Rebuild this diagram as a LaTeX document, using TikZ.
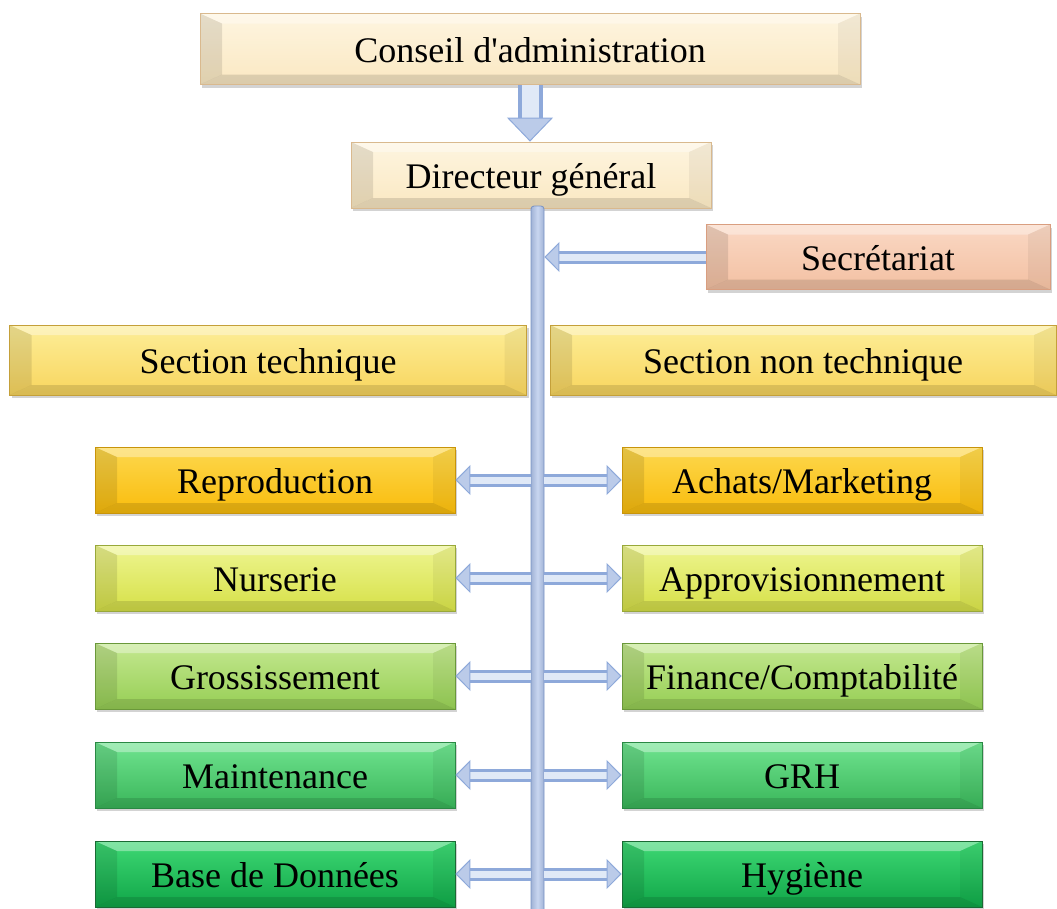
\documentclass[tikz,border=0pt]{standalone}
\usepackage{fontspec}
\setmainfont{Liberation Serif}
\usetikzlibrary{arrows.meta,shadows,fit}

\definecolor{cream}{HTML}{FAE8C2}
\definecolor{creamTop}{HTML}{FEF5E0}
\definecolor{creamEdge}{HTML}{D9B98E}
\definecolor{salmon}{HTML}{F3C0A2}
\definecolor{salmonTop}{HTML}{FAD8C4}
\definecolor{salmonEdge}{HTML}{D99E80}
\definecolor{gold}{HTML}{F8D55E}
\definecolor{goldTop}{HTML}{FDEE98}
\definecolor{goldEdge}{HTML}{C4A03A}
\definecolor{amber}{HTML}{F9BC0C}
\definecolor{amberTop}{HTML}{FDD84E}
\definecolor{amberEdge}{HTML}{C8940A}
\definecolor{lime}{HTML}{D6E048}
\definecolor{limeTop}{HTML}{EEF590}
\definecolor{limeEdge}{HTML}{98A83A}
\definecolor{leaf}{HTML}{96CE54}
\definecolor{leafTop}{HTML}{C4E890}
\definecolor{leafEdge}{HTML}{6A983A}
\definecolor{grass}{HTML}{3AB65A}
\definecolor{grassTop}{HTML}{70E490}
\definecolor{grassEdge}{HTML}{2A8844}
\definecolor{forest}{HTML}{10A648}
\definecolor{forestTop}{HTML}{3ED874}
\definecolor{forestEdge}{HTML}{1A6A34}
\definecolor{linkblue}{HTML}{8EA9DA}
\definecolor{linkpale}{HTML}{E0E9F7}
\definecolor{spineEdge}{HTML}{7892C4}
\definecolor{spinePale}{HTML}{C8D6F0}

% bevel of the boxes
\newcommand\bevelbox{%
  \path (path picture bounding box.north west) coordinate (bnw)
        (path picture bounding box.north east) coordinate (bne)
        (path picture bounding box.south west) coordinate (bsw)
        (path picture bounding box.south east) coordinate (bse);
  \fill[white,opacity=.35] (bnw)--(bne)--([shift={(-22pt,-10pt)}]bne)--([shift={(22pt,-10pt)}]bnw)--cycle;
  \fill[black,opacity=.10] (bnw)--([shift={(22pt,-10pt)}]bnw)--([shift={(22pt,10pt)}]bsw)--(bsw)--cycle;
  \fill[black,opacity=.05] (bne)--([shift={(-22pt,-10pt)}]bne)--([shift={(-22pt,10pt)}]bse)--(bse)--cycle;
  \fill[black,opacity=.12] (bsw)--(bse)--([shift={(-22pt,10pt)}]bse)--([shift={(22pt,10pt)}]bsw)--cycle;}

\begin{document}
\begin{tikzpicture}[x=1pt,y=-1pt,
    every node/.style={font=\fontsize{36}{40}\selectfont,text height=30pt,text depth=4pt},
    box/.style={rectangle,draw=#1Edge,line width=.8pt,top color=#1Top,bottom color=#1,
      inner sep=0pt,minimum height=66pt,minimum width=360pt,
      drop shadow={shadow xshift=2pt,shadow yshift=-3pt,opacity=.35},
      path picture={\bevelbox}},
    spine/.style={draw=spineEdge,line width=.8pt,left color=spineEdge!70,right color=spineEdge!70,
      middle color=spinePale,inner sep=0pt,rounded corners=3pt},
    conn/.style={draw=linkblue,double=linkpale,line width=3pt,double distance=7pt,
      -{Triangle[width=30pt,length=15pt,fill=linkblue!60,line width=1pt]}},
    drop/.style={conn,line width=4pt,double distance=17pt,
      -{Triangle[width=46pt,length=24pt,fill=linkblue!60,line width=1pt]}}]
  \useasboundingbox (0,0) rectangle (1057,908);
  \node[box=cream,minimum width=660pt,minimum height=71pt](cons)at(530,49){Conseil d\textquotesingle administration};
  \node[box=cream](dg)at(531,175){Directeur général};
  \node[spine,fit={(531,206)(544,912)}](bar){};
  \node[box=salmon,minimum width=344pt,minimum height=65pt](sec)at(878,257){Secrétariat};
  \node[box=gold,minimum width=517pt,minimum height=70pt](sect)at(268,360){Section technique};
  \node[box=gold,minimum width=506pt,minimum height=70pt](secn)at(803,360){Section non technique};
  % section technique
  \node[box=amber](rep)at(275,480){Reproduction};
  \node[box=lime](nur)at(275,578){Nurserie};
  \node[box=leaf](gro)at(275,676){Grossissement};
  \node[box=grass](mai)at(275,775){Maintenance};
  \node[box=forest](bdd)at(275,874){Base de Données};
  % section non technique
  \node[box=amber](ach)at(802,480){Achats/Marketing};
  \node[box=lime](app)at(802,578){Approvisionnement};
  \node[box=leaf](fin)at(802,676){Finance/Comptabilité};
  \node[box=grass](grh)at(802,775){GRH};
  \node[box=forest](hyg)at(802,874){Hygiène};
  \draw[drop](cons.south)--(cons.south |- dg.north);
  \draw[conn](sec.west)--(bar.east |- sec.west);
  \draw[conn](bar.west |- rep.east)--(rep.east);
  \draw[conn](bar.west |- nur.east)--(nur.east);
  \draw[conn](bar.west |- gro.east)--(gro.east);
  \draw[conn](bar.west |- mai.east)--(mai.east);
  \draw[conn](bar.west |- bdd.east)--(bdd.east);
  \draw[conn](bar.east |- ach.west)--(ach.west);
  \draw[conn](bar.east |- app.west)--(app.west);
  \draw[conn](bar.east |- fin.west)--(fin.west);
  \draw[conn](bar.east |- grh.west)--(grh.west);
  \draw[conn](bar.east |- hyg.west)--(hyg.west);
\end{tikzpicture}
\end{document}
